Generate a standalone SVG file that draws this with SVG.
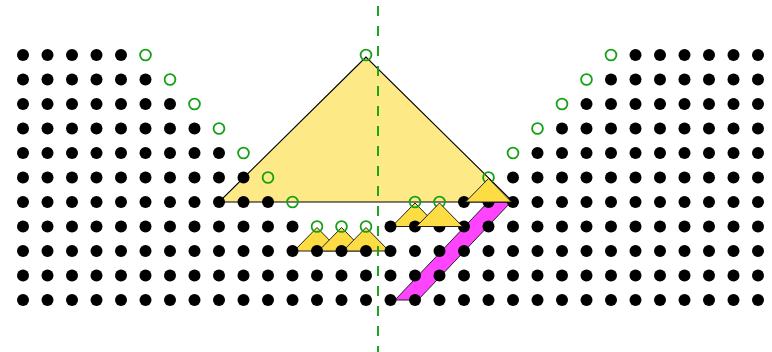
<svg xmlns="http://www.w3.org/2000/svg" width="772" height="352" viewBox="0 0 772 352">
<style>
.dots circle{fill:#000}
.ring{fill:none;stroke:#15a015;stroke-width:1.8}
.big{fill:#fde985;stroke:#000;stroke-width:1.1;stroke-linejoin:miter}
.small{fill:#fddc44;stroke:#222;stroke-width:1}
.band{fill:#ff44ff;stroke:#222;stroke-width:1}
.axis{stroke:#15a015;stroke-width:1.9;stroke-dasharray:10 10;stroke-dashoffset:14;fill:none}
</style>
<rect width="772" height="352" fill="#fff"/>
<g id="band"><polygon class="band" points="488,202 511,202 418,300 395,300"/></g>
<g id="big-triangle"><polygon class="big" points="366,57 219,202 513,202"/></g>
<g id="small-triangles-lower">
<polygon class="small" points="317,227.5 294,251 340,251"/>
<polygon class="small" points="341.5,227.5 318.5,251 364.5,251"/>
<polygon class="small" points="366,227.5 343,251 389,251"/>
<polygon class="small" points="415,203 392,226.5 438,226.5"/>
</g>
<g id="dots" class="dots">
<g transform="translate(0,55)"><circle cx="23" r="6"/><circle cx="47.5" r="6"/><circle cx="72" r="6"/><circle cx="96.5" r="6"/><circle cx="121" r="6"/><circle cx="635.5" r="6"/><circle cx="660" r="6"/><circle cx="684.5" r="6"/><circle cx="709" r="6"/><circle cx="733.5" r="6"/><circle cx="758" r="6"/></g>
<g transform="translate(0,79.5)"><circle cx="23" r="6"/><circle cx="47.5" r="6"/><circle cx="72" r="6"/><circle cx="96.5" r="6"/><circle cx="121" r="6"/><circle cx="145.5" r="6"/><circle cx="611" r="6"/><circle cx="635.5" r="6"/><circle cx="660" r="6"/><circle cx="684.5" r="6"/><circle cx="709" r="6"/><circle cx="733.5" r="6"/><circle cx="758" r="6"/></g>
<g transform="translate(0,104)"><circle cx="23" r="6"/><circle cx="47.5" r="6"/><circle cx="72" r="6"/><circle cx="96.5" r="6"/><circle cx="121" r="6"/><circle cx="145.5" r="6"/><circle cx="170" r="6"/><circle cx="586.5" r="6"/><circle cx="611" r="6"/><circle cx="635.5" r="6"/><circle cx="660" r="6"/><circle cx="684.5" r="6"/><circle cx="709" r="6"/><circle cx="733.5" r="6"/><circle cx="758" r="6"/></g>
<g transform="translate(0,128.5)"><circle cx="23" r="6"/><circle cx="47.5" r="6"/><circle cx="72" r="6"/><circle cx="96.5" r="6"/><circle cx="121" r="6"/><circle cx="145.5" r="6"/><circle cx="170" r="6"/><circle cx="194.5" r="6"/><circle cx="562" r="6"/><circle cx="586.5" r="6"/><circle cx="611" r="6"/><circle cx="635.5" r="6"/><circle cx="660" r="6"/><circle cx="684.5" r="6"/><circle cx="709" r="6"/><circle cx="733.5" r="6"/><circle cx="758" r="6"/></g>
<g transform="translate(0,153)"><circle cx="23" r="6"/><circle cx="47.5" r="6"/><circle cx="72" r="6"/><circle cx="96.5" r="6"/><circle cx="121" r="6"/><circle cx="145.5" r="6"/><circle cx="170" r="6"/><circle cx="194.5" r="6"/><circle cx="219" r="6"/><circle cx="537.5" r="6"/><circle cx="562" r="6"/><circle cx="586.5" r="6"/><circle cx="611" r="6"/><circle cx="635.5" r="6"/><circle cx="660" r="6"/><circle cx="684.5" r="6"/><circle cx="709" r="6"/><circle cx="733.5" r="6"/><circle cx="758" r="6"/></g>
<g transform="translate(0,177.5)"><circle cx="23" r="6"/><circle cx="47.5" r="6"/><circle cx="72" r="6"/><circle cx="96.5" r="6"/><circle cx="121" r="6"/><circle cx="145.5" r="6"/><circle cx="170" r="6"/><circle cx="194.5" r="6"/><circle cx="219" r="6"/><circle cx="243.5" r="6"/><circle cx="513" r="6"/><circle cx="537.5" r="6"/><circle cx="562" r="6"/><circle cx="586.5" r="6"/><circle cx="611" r="6"/><circle cx="635.5" r="6"/><circle cx="660" r="6"/><circle cx="684.5" r="6"/><circle cx="709" r="6"/><circle cx="733.5" r="6"/><circle cx="758" r="6"/></g>
<g transform="translate(0,202)"><circle cx="23" r="6"/><circle cx="47.5" r="6"/><circle cx="72" r="6"/><circle cx="96.5" r="6"/><circle cx="121" r="6"/><circle cx="145.5" r="6"/><circle cx="170" r="6"/><circle cx="194.5" r="6"/><circle cx="219" r="6"/><circle cx="243.5" r="6"/><circle cx="268" r="6"/><circle cx="464" r="6"/><circle cx="488.5" r="6"/><circle cx="513" r="6"/><circle cx="537.5" r="6"/><circle cx="562" r="6"/><circle cx="586.5" r="6"/><circle cx="611" r="6"/><circle cx="635.5" r="6"/><circle cx="660" r="6"/><circle cx="684.5" r="6"/><circle cx="709" r="6"/><circle cx="733.5" r="6"/><circle cx="758" r="6"/></g>
<g transform="translate(0,226.5)"><circle cx="23" r="6"/><circle cx="47.5" r="6"/><circle cx="72" r="6"/><circle cx="96.5" r="6"/><circle cx="121" r="6"/><circle cx="145.5" r="6"/><circle cx="170" r="6"/><circle cx="194.5" r="6"/><circle cx="219" r="6"/><circle cx="243.5" r="6"/><circle cx="268" r="6"/><circle cx="292.5" r="6"/><circle cx="390.5" r="6"/><circle cx="415" r="6"/><circle cx="439.5" r="6"/><circle cx="464" r="6"/><circle cx="488.5" r="6"/><circle cx="513" r="6"/><circle cx="537.5" r="6"/><circle cx="562" r="6"/><circle cx="586.5" r="6"/><circle cx="611" r="6"/><circle cx="635.5" r="6"/><circle cx="660" r="6"/><circle cx="684.5" r="6"/><circle cx="709" r="6"/><circle cx="733.5" r="6"/><circle cx="758" r="6"/></g>
<g transform="translate(0,251)"><circle cx="23" r="6"/><circle cx="47.5" r="6"/><circle cx="72" r="6"/><circle cx="96.5" r="6"/><circle cx="121" r="6"/><circle cx="145.5" r="6"/><circle cx="170" r="6"/><circle cx="194.5" r="6"/><circle cx="219" r="6"/><circle cx="243.5" r="6"/><circle cx="268" r="6"/><circle cx="292.5" r="6"/><circle cx="317" r="6"/><circle cx="341.5" r="6"/><circle cx="366" r="6"/><circle cx="390.5" r="6"/><circle cx="415" r="6"/><circle cx="439.5" r="6"/><circle cx="464" r="6"/><circle cx="488.5" r="6"/><circle cx="513" r="6"/><circle cx="537.5" r="6"/><circle cx="562" r="6"/><circle cx="586.5" r="6"/><circle cx="611" r="6"/><circle cx="635.5" r="6"/><circle cx="660" r="6"/><circle cx="684.5" r="6"/><circle cx="709" r="6"/><circle cx="733.5" r="6"/><circle cx="758" r="6"/></g>
<g transform="translate(0,275.5)"><circle cx="23" r="6"/><circle cx="47.5" r="6"/><circle cx="72" r="6"/><circle cx="96.5" r="6"/><circle cx="121" r="6"/><circle cx="145.5" r="6"/><circle cx="170" r="6"/><circle cx="194.5" r="6"/><circle cx="219" r="6"/><circle cx="243.5" r="6"/><circle cx="268" r="6"/><circle cx="292.5" r="6"/><circle cx="317" r="6"/><circle cx="341.5" r="6"/><circle cx="366" r="6"/><circle cx="390.5" r="6"/><circle cx="415" r="6"/><circle cx="439.5" r="6"/><circle cx="464" r="6"/><circle cx="488.5" r="6"/><circle cx="513" r="6"/><circle cx="537.5" r="6"/><circle cx="562" r="6"/><circle cx="586.5" r="6"/><circle cx="611" r="6"/><circle cx="635.5" r="6"/><circle cx="660" r="6"/><circle cx="684.5" r="6"/><circle cx="709" r="6"/><circle cx="733.5" r="6"/><circle cx="758" r="6"/></g>
<g transform="translate(0,300)"><circle cx="23" r="6"/><circle cx="47.5" r="6"/><circle cx="72" r="6"/><circle cx="96.5" r="6"/><circle cx="121" r="6"/><circle cx="145.5" r="6"/><circle cx="170" r="6"/><circle cx="194.5" r="6"/><circle cx="219" r="6"/><circle cx="243.5" r="6"/><circle cx="268" r="6"/><circle cx="292.5" r="6"/><circle cx="317" r="6"/><circle cx="341.5" r="6"/><circle cx="366" r="6"/><circle cx="390.5" r="6"/><circle cx="415" r="6"/><circle cx="439.5" r="6"/><circle cx="464" r="6"/><circle cx="488.5" r="6"/><circle cx="513" r="6"/><circle cx="537.5" r="6"/><circle cx="562" r="6"/><circle cx="586.5" r="6"/><circle cx="611" r="6"/><circle cx="635.5" r="6"/><circle cx="660" r="6"/><circle cx="684.5" r="6"/><circle cx="709" r="6"/><circle cx="733.5" r="6"/><circle cx="758" r="6"/></g>
</g>
<g id="rings">
<circle class="ring" cx="145.5" cy="55" r="5.4"/>
<circle class="ring" cx="170" cy="79.5" r="5.4"/>
<circle class="ring" cx="194.5" cy="104" r="5.4"/>
<circle class="ring" cx="219" cy="128.5" r="5.4"/>
<circle class="ring" cx="243.5" cy="153" r="5.4"/>
<circle class="ring" cx="268" cy="177.5" r="5.4"/>
<circle class="ring" cx="292.5" cy="202" r="5.4"/>
<circle class="ring" cx="366" cy="55" r="5.4"/>
<circle class="ring" cx="611" cy="55" r="5.4"/>
<circle class="ring" cx="586.5" cy="79.5" r="5.4"/>
<circle class="ring" cx="562" cy="104" r="5.4"/>
<circle class="ring" cx="537.5" cy="128.5" r="5.4"/>
<circle class="ring" cx="513" cy="153" r="5.4"/>
<circle class="ring" cx="488.5" cy="177.5" r="5.4"/>
<circle class="ring" cx="415" cy="202" r="5.4"/>
<circle class="ring" cx="439.5" cy="202" r="5.4"/>
<circle class="ring" cx="317" cy="226.5" r="5.4"/>
<circle class="ring" cx="341.5" cy="226.5" r="5.4"/>
<circle class="ring" cx="366" cy="226.5" r="5.4"/>
</g>
<g id="small-triangles-upper">
<polygon class="small" points="439.5,203 416.5,226.5 462.5,226.5"/>
<polygon class="small" points="488.5,178.5 465.5,202 511.5,202"/>
</g>
<g id="axis"><line class="axis" x1="378" y1="0" x2="378" y2="352"/></g>
</svg>
